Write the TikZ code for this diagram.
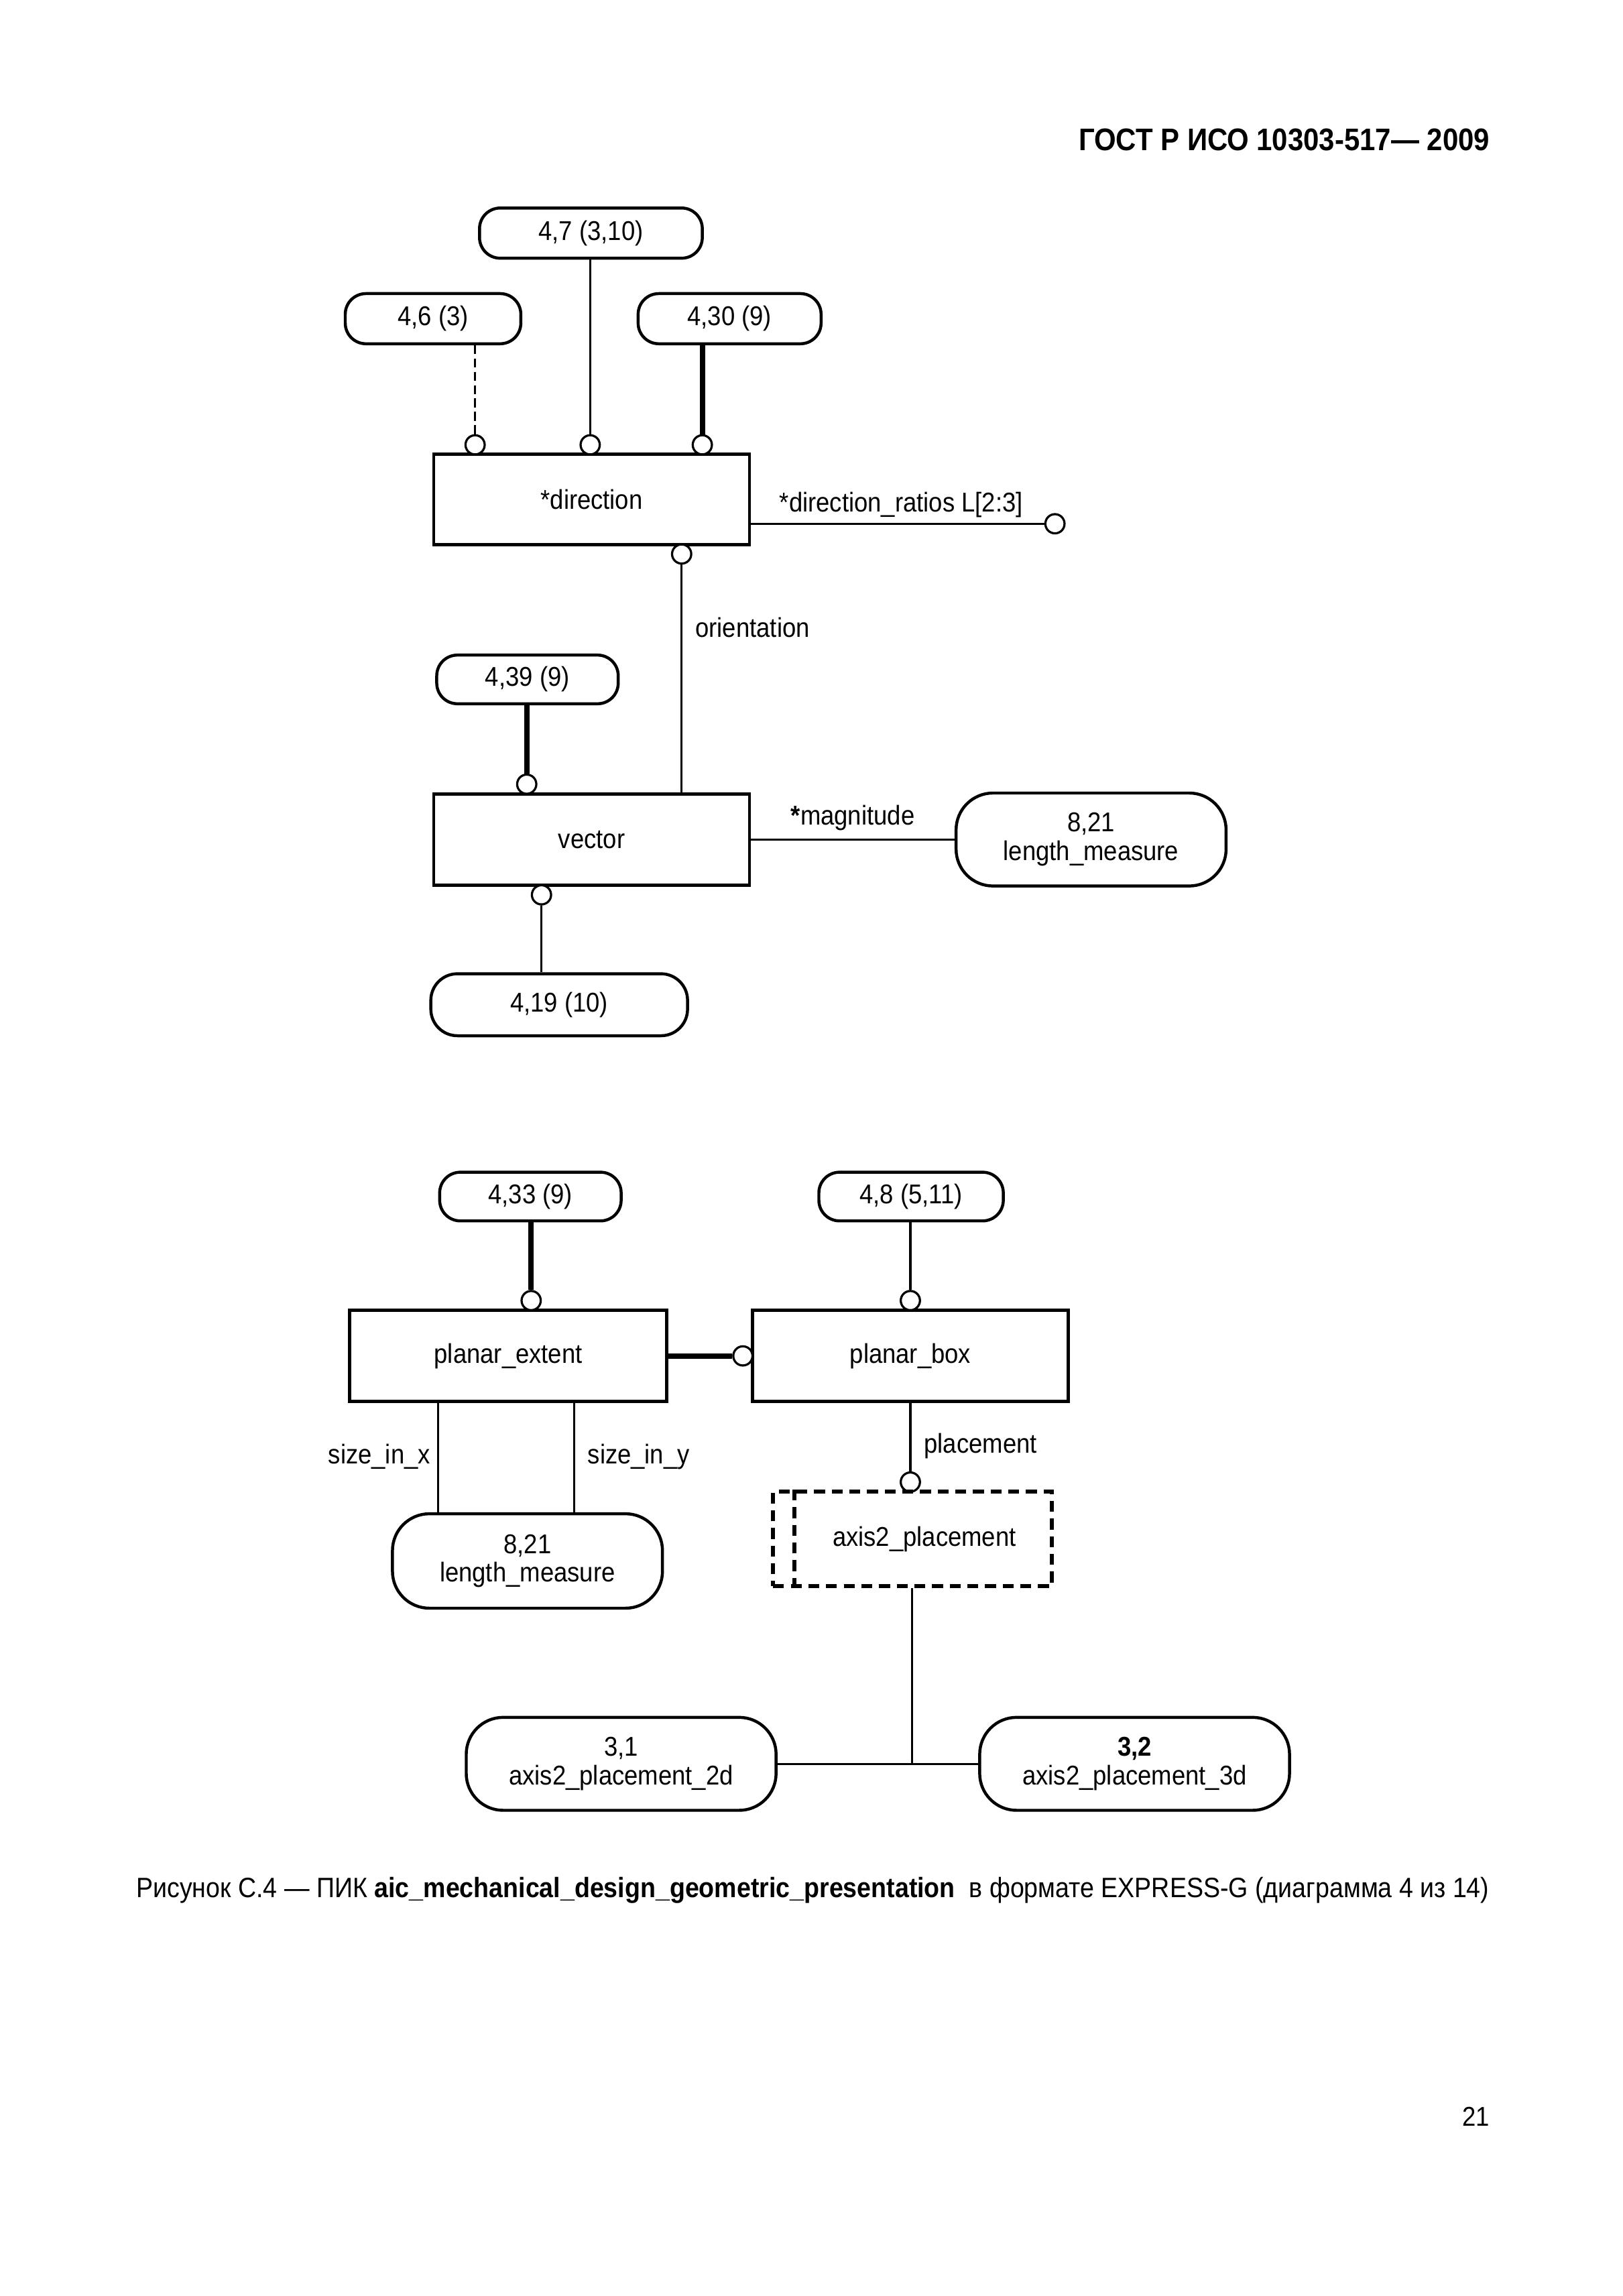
\documentclass[tikz,border=0pt]{standalone}
\usepackage{fontspec}
\setmainfont{Liberation Sans}[FakeStretch=0.9]
\usetikzlibrary{calc}
\def\uu{0.54319pt}
\begin{document}
\begin{tikzpicture}[x=0.54319pt, y=-0.54319pt,
  txt/.style={font=\fontsize{10}{10.5}\selectfont, inner sep=0pt},
  ent/.style={draw, line width=1.2pt, rectangle, minimum width=214*\uu, minimum height=62*\uu, inner sep=0pt, font=\fontsize{10}{10.5}\selectfont},
  refb/.style={draw, line width=1.1pt, rounded corners=14*\uu, inner sep=0pt, align=center, font=\fontsize{10}{10.5}\selectfont, minimum height=34*\uu},
  refc/.style={draw, line width=1.1pt, rounded corners=25*\uu, inner sep=0pt, align=center, font=\fontsize{10}{10.5}\selectfont, minimum width=183*\uu, minimum height=63*\uu},
  circ/.style={draw, circle, line width=0.8pt, minimum size=13*\uu, inner sep=0pt, fill=white},
  thinl/.style={line width=0.8pt},
  heavy/.style={line width=2pt},
  dashl/.style={line width=0.8pt, dash pattern=on 3.3pt off 1.6pt},
  dbox/.style={draw, line width=1.5pt, dash pattern=on 4pt off 2.5pt, inner sep=0pt, font=\fontsize{10}{10.5}\selectfont}
]
\useasboundingbox (0,0) rectangle (1100,1556.2);

% header
\node[anchor=base east, inner sep=0pt, font=\bfseries\fontsize{11.5}{13}\selectfont] (hdr) at (1010,102) {ГОСТ Р ИСО 10303-517— 2009};

% ---------- top cluster ----------
\node[refb, minimum width=151*\uu] (n47) at (400.5,158) {4,7 (3,10)};
\node[refb, minimum width=119*\uu] (n46) at (293.5,216) {4,6 (3)};
\node[refb, minimum width=124*\uu] (n430) at (494.5,216) {4,30 (9)};
\node[ent, minimum height=61*\uu] (dir) at (401,338.5) {*direction};
\node[circ] (c46) at (322,301.5) {};
\node[circ] (c47) at (400,301.5) {};
\node[circ] (c430) at (476,301.5) {};
\draw[dashl] (n46.south -| c46) -- (c46.north);
\draw[thinl] (n47.south -| c47) -- (c47.north);
\draw[heavy] (n430.south -| c430) -- (c430.north);

\node[circ] (cdr) at (715,355) {};
\draw[thinl] (dir.east |- cdr) -- (cdr.west);
\node[txt, anchor=base west] (ldr) at (528,347) {*direction\_ratios L[2:3]};

\node[circ] (cori) at (462,375.5) {};
\node[txt, anchor=base west] (lori) at (471,432) {orientation};

% ---------- vector cluster ----------
\node[refb, minimum width=123*\uu, minimum height=33*\uu] (n439) at (357.5,460.5) {4,39 (9)};
\node[ent] (vec) at (401,569) {vector};
\node[circ] (c439) at (357,531.5) {};
\draw[heavy] (n439.south -| c439) -- (c439.north);
\draw[thinl] (cori.south) -- (vec.north -| cori);
\node[refc] (lm1) at (739.5,569) {8,21\\length\_measure};
\draw[thinl] (vec.east) -- (lm1.west);
\node[txt, anchor=base] (lmag) at (578,559) {\textbf{*}magnitude};
\node[circ] (c419) at (367,606.5) {};
\node[refb, minimum width=174*\uu, minimum height=42*\uu, rounded corners=18*\uu] (n419) at (379,681) {4,19 (10)};
\draw[thinl] (c419.south) -- (n419.north -| c419);

% ---------- lower cluster ----------
\node[refb, minimum width=123*\uu, minimum height=33*\uu] (n433) at (359.5,811) {4,33 (9)};
\node[refb, minimum width=125*\uu, minimum height=33*\uu] (n48) at (617.5,811) {4,8 (5,11)};
\node[ent, minimum width=215*\uu] (pe) at (344.5,919) {planar\_extent};
\node[ent] (pb) at (617,919) {planar\_box};
\node[circ] (c433) at (360,881.5) {};
\node[circ] (c48) at (617,881.5) {};
\draw[heavy] (n433.south -| c433) -- (c433.north);
\draw[thinl] (n48.south -| c48) -- (c48.north);
\node[circ] (cpb) at (503.5,919) {};
\draw[heavy] (pe.east) -- (cpb.west);

\node[refc, minimum height=64*\uu] (lm2) at (357.5,1058) {8,21\\length\_measure};
\coordinate (sx) at (297,0);
\coordinate (sy) at (389,0);
\draw[thinl] (pe.south -| sx) -- (lm2.north -| sx);
\draw[thinl] (pe.south -| sy) -- (lm2.north -| sy);
\node[txt, anchor=base east] (lsx) at (292,992) {size\_in\_x};
\node[txt, anchor=base west] (lsy) at (398,992) {size\_in\_y};

\node[circ] (cax) at (617,1004.5) {};
\draw[thinl] (pb.south -| cax) -- (cax.north);
\node[txt, anchor=base west] (lpl) at (626,985) {placement};
\node[dbox, minimum width=189*\uu, minimum height=64*\uu] (ax) at (618.5,1043) {\hspace*{8.7pt}axis2\_placement};
\draw[line width=1.5pt, dash pattern=on 4pt off 2.5pt] ($(ax.north west)+(16,0)$) -- ($(ax.south west)+(16,0)$);

\node[refc, minimum width=210*\uu] (a31) at (421,1195.5) {3,1\\axis2\_placement\_2d};
\node[refc, minimum width=210*\uu] (a32) at (769,1195.5) {\textbf{3,2}\\axis2\_placement\_3d};
\coordinate (j) at (618,1195.5);
\draw[thinl] (ax.south -| j) -- (j);
\draw[thinl] (a31.east) -- (a32.west);

% caption
\node[anchor=base west, inner sep=0pt, font=\fontsize{10.3}{12}\selectfont] (cap) at (92,1286) {Рисунок С.4 — ПИК \textbf{aic\_mechanical\_design\_geometric\_presentation}\ \ в формате EXPRESS-G (диаграмма 4 из 14)};

\node[anchor=base east, inner sep=0pt, font=\fontsize{10}{12}\selectfont] (pg) at (1010,1441) {21};
\end{tikzpicture}
\end{document}
